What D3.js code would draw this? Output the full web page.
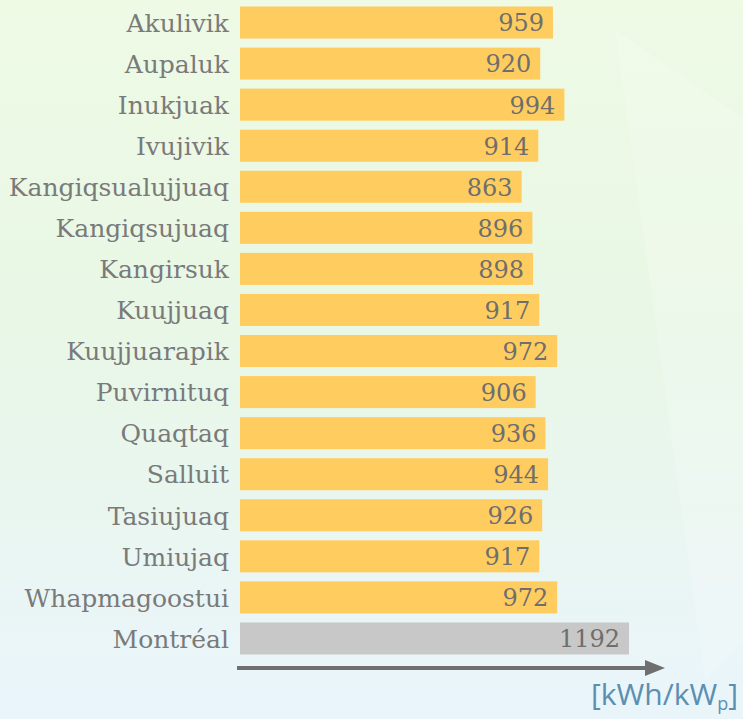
<!DOCTYPE html>
<html>
<head>
<meta charset="utf-8">
<script src="https://cdn.jsdelivr.net/npm/d3@7"></script>
<style>
  body { margin: 0; padding: 0; }
  svg { display: block; }
</style>
</head>
<body>
<div class="container"></div>
<script>
var communities = ['Akulivik', 'Aupaluk', 'Inukjuak', 'Ivujivik', 'Kangiqsualujjuaq',
  'Kangiqsujuaq', 'Kangirsuk', 'Kuujjuaq', 'Kuujjuarapik', 'Puvirnituq', 'Quaqtaq',
  'Salluit', 'Tasiujuaq', 'Umiujaq', 'Whapmagoostui', 'Montréal'];
var yieldValues = [959, 920, 994, 914, 863, 896, 898, 917, 972, 906, 936, 944, 926, 917, 972, 1192];
var unitLabel = 'kWh/kW';

buildChart();

function buildChart() {
  var w = 743;
  var h = 719;

  var svg = d3.select('.container')
    .append('svg')
    .attr('width', w)
    .attr('height', h);

  /* background gradient */
  var defs = svg.append('defs');
  var grad = defs.append('linearGradient')
    .attr('id', 'bg')
    .attr('x1', 0).attr('y1', 0).attr('x2', 0).attr('y2', 1);
  grad.append('stop').attr('offset', '0%').attr('stop-color', '#eefae4');
  grad.append('stop').attr('offset', '45%').attr('stop-color', '#e8f7e6');
  grad.append('stop').attr('offset', '100%').attr('stop-color', '#eaf5fb');

  svg.append('rect')
    .attr('width', w)
    .attr('height', h)
    .attr('fill', 'url(#bg)');

  // faint light wedge on the right
  svg.append('path')
    .attr('d', 'M615,30 L743,118 L743,640 L705,680 Z')
    .attr('fill', '#ffffff')
    .attr('opacity', 0.18);

  var xScale = d3.scaleLinear()
    .domain([0, 1192])
    .range([240, 629]);

  var yScale = d3.scaleBand()
    .domain(communities)
    .range([2, 659])
    .paddingInner(0.22)
    .paddingOuter(0.11);

  var group = svg.selectAll('g.row')
    .data(communities)
    .enter()
    .append('g')
    .attr('class', 'row');

  /* bars */
  group.append('rect')
    .attr('x', xScale(0))
    .attr('y', function(d) { return yScale(d); })
    .attr('width', function(d, i) { return xScale(yieldValues[i]) - xScale(0); })
    .attr('height', yScale.bandwidth())
    .attr('fill', function(d) {
      return d == 'Montréal' ? '#c8c8c8' : '#ffcd5f';
    });

  /* community names */
  group.append('text')
    .attr('x', 229)
    .attr('y', function(d) { return yScale(d) + yScale.bandwidth() / 2; })
    .attr('dy', '0.37em')
    .attr('text-anchor', 'end')
    .attr('font-family', '"DejaVu Serif"')
    .attr('font-size', '25px')
    .attr('fill', '#7a7a7a')
    .text(function(d) { return d; });

  /* values on bars */
  group.append('text')
    .attr('x', function(d, i) { return xScale(yieldValues[i]) - 9; })
    .attr('y', function(d) { return yScale(d) + yScale.bandwidth() / 2; })
    .attr('dy', '0.37em')
    .attr('text-anchor', 'end')
    .attr('font-family', '"DejaVu Serif"')
    .attr('font-size', '24px')
    .attr('fill', '#6e6e6e')
    .text(function(d, i) { return yieldValues[i]; });

  /* axis arrow */
  var arrowY = 668;
  svg.append('line')
    .attr('x1', 237)
    .attr('x2', 648)
    .attr('y1', arrowY)
    .attr('y2', arrowY)
    .attr('stroke', '#6f6f6f')
    .attr('stroke-width', 4);
  svg.append('path')
    .attr('d', 'M645,' + (arrowY - 8) + ' L665,' + arrowY + ' L645,' + (arrowY + 8) + ' Z')
    .attr('fill', '#6f6f6f');

  /* unit */
  var unit = svg.append('text')
    .attr('x', 738)
    .attr('y', 705)
    .attr('text-anchor', 'end')
    .attr('font-family', '"Open Sans", sans-serif')
    .attr('font-size', '30px')
    .attr('fill', '#5b8fb2');
  unit.append('tspan').text('[' + unitLabel);
  unit.append('tspan').attr('font-size', '18px').attr('dy', 5).text('p');
  unit.append('tspan').attr('dy', -5).text(']');
}
</script>
</body>
</html>
